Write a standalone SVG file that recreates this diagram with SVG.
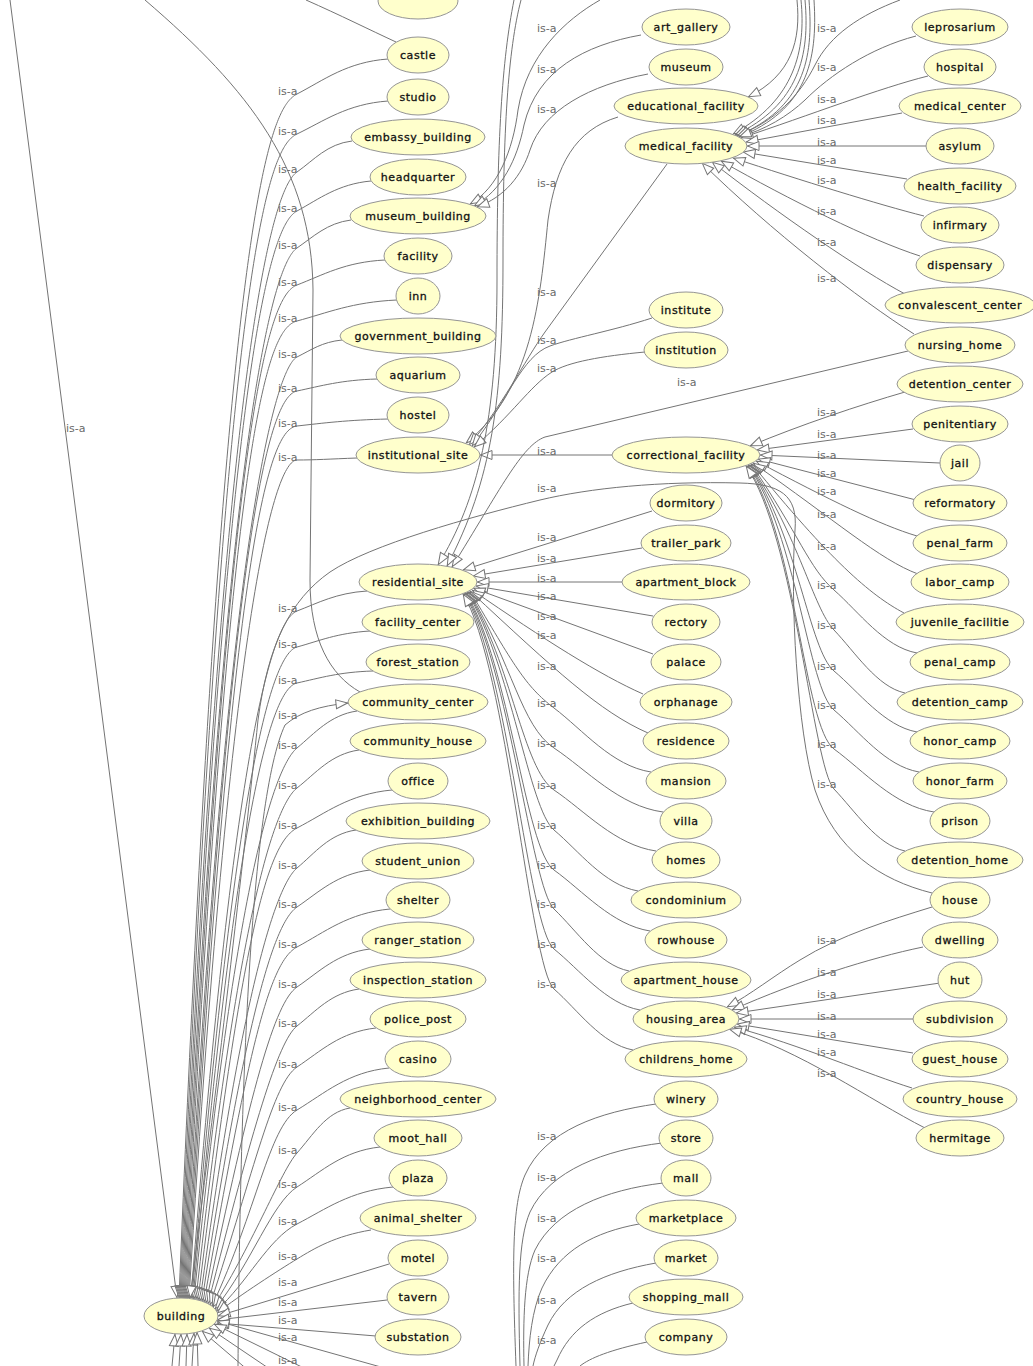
<svg xmlns="http://www.w3.org/2000/svg" width="1033" height="1366" viewBox="0 0 1033 1366">
<defs>
<style>
.n ellipse{fill:#ffffcc;stroke:#959595;stroke-width:1}
.n text{font-family:"DejaVu Sans","Liberation Sans",sans-serif;font-size:11px;letter-spacing:0.55px;fill:#111;stroke:#111;stroke-width:0.3px;text-anchor:middle}
#edges path{fill:none;stroke:#747474;stroke-width:1;marker-end:url(#arr)}
#edges path.o{marker-end:none}
#labels text{font-family:"DejaVu Sans","Liberation Sans",sans-serif;font-size:11px;fill:#6a6a6a}
</style>
<marker id="arr" viewBox="-13 -6 14 12" refX="0" refY="0" markerWidth="14" markerHeight="12" markerUnits="userSpaceOnUse" orient="auto">
<path d="M-0.5,0 L-12,-4.5 L-12,4.5 Z" fill="#fff" stroke="#747474" stroke-width="1"/>
</marker>
</defs>
<rect width="1033" height="1366" fill="#fff"/>
<g id="edges">
<path d="M10,0 L177,1298"/>
<path class="o" d="M145,0 C250,90 312,170 313,290 L310,580 C310,640 330,675 360,692"/>
<path class="o" d="M306,0 C340,15 370,30 396,42"/>
<path d="M388,59 C347,62 324,80 297,94 S224,194 179,1298"/>
<path d="M388,101 C347,104 324,121 297,134 S225,234 180,1298"/>
<path d="M352,141 C327,144 314,160 297,172 S226,272 181,1298"/>
<path d="M371,181 C338,184 319,199 297,211 S227,311 182,1298"/>
<path d="M351,220 C327,223 313,237 297,248 S228,348 183,1298"/>
<path d="M385,260 C345,262 323,275 297,285 S229,385 184,1298"/>
<path d="M397,300 C352,302 327,313 297,321 S230,421 185,1298"/>
<path d="M342,340 C322,342 311,350 297,357 S231,457 186,1298"/>
<path d="M377,379 C341,380 321,386 297,391 S232,491 187,1298"/>
<path d="M388,419 C347,420 324,423 297,426 S233,526 188,1298"/>
<path d="M357,458 C330,459 315,460 297,460 S234,560 189,1298"/>
<path d="M367,591 C336,593 318,603 297,611 S236,711 191,1298"/>
<path d="M370,631 C337,633 319,641 297,647 S237,747 192,1298"/>
<path d="M373,671 C339,672 320,678 297,683 S238,783 193,1299"/>
<path d="M357,711 C330,715 315,733 297,748 S239,848 194,1299"/>
<path d="M359,750 C331,754 316,773 297,788 S241,888 196,1299"/>
<path d="M392,790 C349,794 326,813 297,828 S243,928 198,1300"/>
<path d="M356,830 C329,834 315,853 297,868 S245,968 200,1301"/>
<path d="M370,870 C337,874 319,892 297,907 S247,1007 202,1301"/>
<path d="M390,909 C348,913 325,932 297,947 S249,1047 204,1302"/>
<path d="M370,949 C337,953 319,972 297,987 S251,1087 206,1303"/>
<path d="M359,989 C331,993 316,1011 297,1026 S253,1126 208,1304"/>
<path d="M376,1028 C340,1032 321,1051 297,1067 S255,1167 210,1305"/>
<path d="M389,1068 C348,1072 325,1093 297,1110 S257,1210 212,1306"/>
<path d="M350,1108 C326,1112 313,1135 297,1153 S255,1240 213,1307"/>
<path d="M380,1147 C343,1151 322,1171 297,1187 S252,1262 215,1309"/>
<path d="M393,1187 C350,1191 326,1209 297,1224 S248,1282 216,1311"/>
<path d="M371,1230 C335,1236 315,1248 297,1259 S240,1295 217,1313"/>
<path d="M389,1264 L218,1316"/>
<path d="M387,1300 L217,1320"/>
<path d="M376,1336 L217,1323"/>
<path d="M420,1378 L217,1321"/>
<path d="M410,1420 L214,1324"/>
<path d="M360,1430 L209,1328"/>
<path d="M330,1440 L202,1331"/>
<path d="M172,1366 L175,1334"/>
<path d="M179,1366 L181,1334"/>
<path d="M186,1366 L187,1334"/>
<path d="M192,1366 L194,1333"/>
<path d="M198,1366 L197,1332"/>
<path d="M238,1366 C240,1100 250,800 285,725 C300,712 320,706 348,703"/>
<path d="M932,893 C880,880 835,850 815,790 C797,730 790,600 795,530 C798,495 780,484 740,483 C660,481 590,488 540,500 C470,517 370,545 330,572 C290,600 268,645 258,720 C245,850 215,1100 190,1298"/>
<path d="M600,0 C565,20 527,55 518,110 C513,150 498,188 470,204"/>
<path d="M641,35 C585,45 537,70 524,125 C517,160 502,190 474,206"/>
<path d="M648,74 C590,85 543,110 530,150 C522,175 505,197 477,207"/>
<path d="M618,117 C575,130 556,165 548,220 C540,300 532,390 466,443"/>
<path d="M667,164 L545,332 C525,360 500,410 469,445"/>
<path d="M652,318 C612,331 572,338 550,346 C522,356 508,400 472,446"/>
<path d="M645,352 C602,356 568,362 552,372 C530,386 512,415 474,447"/>
<path d="M612,455 L480,455"/>
<path d="M908,351 L545,437 C522,445 500,490 452,567"/>
<path d="M521,0 C508,50 503,130 503,260 C503,400 492,480 447,566"/>
<path d="M514,0 C502,60 497,140 497,280 C497,420 478,500 438,565"/>
<path d="M652,511 L463,570"/>
<path d="M642,548 L473,576"/>
<path d="M622,582 L477,582"/>
<path d="M653,616 L476,586"/>
<path d="M653,654 L473,588"/>
<path d="M643,694 C600,675 545,640 472,590"/>
<path d="M648,733 C600,712 555,670 470,591"/>
<path d="M651,772 C612,766 583,730 554,708 S514,665 470,591"/>
<path d="M663,812 C619,806 587,770 554,748 S513,665 469,592"/>
<path d="M656,851 C615,845 585,811 554,790 S512,665 468,592"/>
<path d="M638,891 C604,885 579,851 554,830 S511,665 467,592"/>
<path d="M650,931 C612,925 583,891 554,870 S510,665 466,593"/>
<path d="M629,971 C599,965 577,931 554,909 S509,665 465,593"/>
<path d="M640,1010 C606,1004 580,970 554,949 S508,665 464,593"/>
<path d="M633,1050 C601,1044 578,1010 554,989 S507,665 463,594"/>
<path class="o" d="M656,1104 C600,1112 545,1130 525,1175 C512,1205 512,1260 516,1366"/>
<path class="o" d="M662,1143 C605,1150 550,1170 530,1212 C518,1240 518,1290 520,1366"/>
<path class="o" d="M663,1183 C605,1190 555,1210 535,1250 C524,1275 523,1320 524,1366"/>
<path class="o" d="M639,1224 C595,1232 560,1250 542,1288 C532,1310 529,1340 528,1366"/>
<path class="o" d="M656,1263 C605,1272 565,1290 548,1325 C540,1342 535,1356 533,1366"/>
<path class="o" d="M633,1303 C595,1312 570,1330 557,1360 L554,1366"/>
<path class="o" d="M647,1342 C610,1350 590,1358 580,1366"/>
<path d="M905,392 C860,405 800,425 750,446"/>
<path d="M913,429 L757,450"/>
<path d="M940,463 L760,455"/>
<path d="M916,500 L758,459"/>
<path d="M917,536 C880,525 830,500 756,461"/>
<path d="M918,574 C880,560 835,520 753,463"/>
<path d="M904,613 C870,595 830,560 752,464"/>
<path d="M917,653 C884,647 859,612 834,590 S800,536 751,464"/>
<path d="M905,693 C877,687 855,652 834,630 S799,536 750,465"/>
<path d="M917,732 C884,726 859,692 834,671 S798,536 749,465"/>
<path d="M919,772 C885,766 860,732 834,710 S797,536 748,465"/>
<path d="M934,812 C894,806 864,771 834,749 S796,536 747,466"/>
<path d="M905,851 C877,845 855,811 834,789 S795,536 746,466"/>
<path d="M932,907 C890,920 840,935 800,960 C775,975 750,995 727,1007"/>
<path d="M923,947 C870,958 800,980 732,1010"/>
<path d="M940,983 L736,1013"/>
<path d="M913,1019 L739,1019"/>
<path d="M913,1053 L737,1024"/>
<path d="M912,1088 C870,1075 800,1045 734,1027"/>
<path d="M925,1128 C870,1100 800,1050 729,1029"/>
<path d="M900,0 C860,15 830,35 815,65 C800,95 775,122 736,136"/>
<path d="M916,36 C870,48 830,75 805,100 C788,116 765,130 739,137"/>
<path d="M928,76 C880,88 810,115 741,138"/>
<path d="M902,113 L746,142"/>
<path d="M927,146 L747,146"/>
<path d="M907,179 L743,152"/>
<path d="M924,216 C880,205 800,180 733,158"/>
<path d="M920,256 C870,240 790,200 721,161"/>
<path d="M905,294 C860,270 780,215 712,162"/>
<path d="M914,334 C860,300 770,230 702,163"/>
<path d="M797,0 C801,40 792,75 748,97"/>
<path d="M801,0 C806,50 795,100 733,134"/>
<path d="M805,0 C810,55 799,105 735,135"/>
<path d="M809,0 C814,60 803,108 737,136"/>
<path d="M814,0 C818,62 806,110 739,137"/>
</g>
<g id="labels">
<text x="66" y="432">is-a</text>
<text x="278" y="95">is-a</text><text x="278" y="135">is-a</text><text x="278" y="173">is-a</text><text x="278" y="212">is-a</text><text x="278" y="249">is-a</text><text x="278" y="286">is-a</text><text x="278" y="322">is-a</text><text x="278" y="358">is-a</text><text x="278" y="392">is-a</text><text x="278" y="427">is-a</text><text x="278" y="461">is-a</text>
<text x="278" y="612">is-a</text><text x="278" y="648">is-a</text><text x="278" y="684">is-a</text><text x="278" y="719">is-a</text><text x="278" y="749">is-a</text><text x="278" y="789">is-a</text><text x="278" y="829">is-a</text><text x="278" y="869">is-a</text><text x="278" y="908">is-a</text><text x="278" y="948">is-a</text><text x="278" y="988">is-a</text><text x="278" y="1027">is-a</text><text x="278" y="1068">is-a</text><text x="278" y="1111">is-a</text><text x="278" y="1154">is-a</text><text x="278" y="1188">is-a</text><text x="278" y="1225">is-a</text><text x="278" y="1260">is-a</text><text x="278" y="1286">is-a</text><text x="278" y="1306">is-a</text><text x="278" y="1324">is-a</text><text x="278" y="1341">is-a</text><text x="278" y="1364">is-a</text>
<text x="537" y="32">is-a</text><text x="537" y="73">is-a</text><text x="537" y="113">is-a</text><text x="537" y="187">is-a</text><text x="537" y="296">is-a</text><text x="537" y="344">is-a</text><text x="537" y="372">is-a</text><text x="537" y="455">is-a</text><text x="537" y="492">is-a</text>
<text x="537" y="541">is-a</text><text x="537" y="562">is-a</text><text x="537" y="582">is-a</text><text x="537" y="600">is-a</text><text x="537" y="620">is-a</text><text x="537" y="639">is-a</text><text x="537" y="670">is-a</text><text x="537" y="707">is-a</text><text x="537" y="747">is-a</text><text x="537" y="789">is-a</text><text x="537" y="829">is-a</text><text x="537" y="869">is-a</text><text x="537" y="908">is-a</text><text x="537" y="948">is-a</text><text x="537" y="988">is-a</text>
<text x="537" y="1140">is-a</text><text x="537" y="1181">is-a</text><text x="537" y="1222">is-a</text><text x="537" y="1262">is-a</text><text x="537" y="1304">is-a</text><text x="537" y="1344">is-a</text>
<text x="677" y="386">is-a</text>
<text x="817" y="32">is-a</text><text x="817" y="71">is-a</text><text x="817" y="103">is-a</text><text x="817" y="124">is-a</text><text x="817" y="146">is-a</text><text x="817" y="164">is-a</text><text x="817" y="184">is-a</text><text x="817" y="215">is-a</text><text x="817" y="246">is-a</text><text x="817" y="282">is-a</text>
<text x="817" y="416">is-a</text><text x="817" y="438">is-a</text><text x="817" y="459">is-a</text><text x="817" y="477">is-a</text><text x="817" y="495">is-a</text><text x="817" y="518">is-a</text><text x="817" y="550">is-a</text><text x="817" y="589">is-a</text><text x="817" y="629">is-a</text><text x="817" y="670">is-a</text><text x="817" y="709">is-a</text><text x="817" y="748">is-a</text><text x="817" y="788">is-a</text>
<text x="817" y="944">is-a</text><text x="817" y="976">is-a</text><text x="817" y="998">is-a</text><text x="817" y="1020">is-a</text><text x="817" y="1038">is-a</text><text x="817" y="1056">is-a</text><text x="817" y="1077">is-a</text>
</g>
<g id="n-top" class="n"><ellipse cx="418" cy="1" rx="40" ry="18"/></g>
<g id="castle" class="n"><ellipse cx="418" cy="55" rx="31" ry="18"/><text x="418" y="59">castle</text></g>
<g id="studio" class="n"><ellipse cx="418" cy="97" rx="31" ry="18"/><text x="418" y="101">studio</text></g>
<g id="embassy_building" class="n"><ellipse cx="418" cy="137" rx="67" ry="18"/><text x="418" y="141">embassy_building</text></g>
<g id="headquarter" class="n"><ellipse cx="418" cy="177" rx="48" ry="18"/><text x="418" y="181">headquarter</text></g>
<g id="museum_building" class="n"><ellipse cx="418" cy="216" rx="68" ry="18"/><text x="418" y="220">museum_building</text></g>
<g id="facility" class="n"><ellipse cx="418" cy="256" rx="34" ry="18"/><text x="418" y="260">facility</text></g>
<g id="inn" class="n"><ellipse cx="418" cy="296" rx="22" ry="18"/><text x="418" y="300">inn</text></g>
<g id="government_building" class="n"><ellipse cx="418" cy="336" rx="78" ry="18"/><text x="418" y="340">government_building</text></g>
<g id="aquarium" class="n"><ellipse cx="418" cy="375" rx="42" ry="18"/><text x="418" y="379">aquarium</text></g>
<g id="hostel" class="n"><ellipse cx="418" cy="415" rx="31" ry="18"/><text x="418" y="419">hostel</text></g>
<g id="institutional_site" class="n"><ellipse cx="418" cy="455" rx="62" ry="18"/><text x="418" y="459">institutional_site</text></g>
<g id="residential_site" class="n"><ellipse cx="418" cy="582" rx="59" ry="18"/><text x="418" y="586">residential_site</text></g>
<g id="facility_center" class="n"><ellipse cx="418" cy="622" rx="56" ry="18"/><text x="418" y="626">facility_center</text></g>
<g id="forest_station" class="n"><ellipse cx="418" cy="662" rx="52" ry="18"/><text x="418" y="666">forest_station</text></g>
<g id="community_center" class="n"><ellipse cx="418" cy="702" rx="70" ry="18"/><text x="418" y="706">community_center</text></g>
<g id="community_house" class="n"><ellipse cx="418" cy="741" rx="68" ry="18"/><text x="418" y="745">community_house</text></g>
<g id="office" class="n"><ellipse cx="418" cy="781" rx="30" ry="18"/><text x="418" y="785">office</text></g>
<g id="exhibition_building" class="n"><ellipse cx="418" cy="821" rx="72" ry="18"/><text x="418" y="825">exhibition_building</text></g>
<g id="student_union" class="n"><ellipse cx="418" cy="861" rx="56" ry="18"/><text x="418" y="865">student_union</text></g>
<g id="shelter" class="n"><ellipse cx="418" cy="900" rx="32" ry="18"/><text x="418" y="904">shelter</text></g>
<g id="ranger_station" class="n"><ellipse cx="418" cy="940" rx="56" ry="18"/><text x="418" y="944">ranger_station</text></g>
<g id="inspection_station" class="n"><ellipse cx="418" cy="980" rx="68" ry="18"/><text x="418" y="984">inspection_station</text></g>
<g id="police_post" class="n"><ellipse cx="418" cy="1019" rx="48" ry="18"/><text x="418" y="1023">police_post</text></g>
<g id="casino" class="n"><ellipse cx="418" cy="1059" rx="33" ry="18"/><text x="418" y="1063">casino</text></g>
<g id="neighborhood_center" class="n"><ellipse cx="418" cy="1099" rx="78" ry="18"/><text x="418" y="1103">neighborhood_center</text></g>
<g id="moot_hall" class="n"><ellipse cx="418" cy="1138" rx="44" ry="18"/><text x="418" y="1142">moot_hall</text></g>
<g id="plaza" class="n"><ellipse cx="418" cy="1178" rx="29" ry="18"/><text x="418" y="1182">plaza</text></g>
<g id="animal_shelter" class="n"><ellipse cx="418" cy="1218" rx="58" ry="18"/><text x="418" y="1222">animal_shelter</text></g>
<g id="motel" class="n"><ellipse cx="418" cy="1258" rx="30" ry="18"/><text x="418" y="1262">motel</text></g>
<g id="tavern" class="n"><ellipse cx="418" cy="1297" rx="31" ry="18"/><text x="418" y="1301">tavern</text></g>
<g id="substation" class="n"><ellipse cx="418" cy="1337" rx="43" ry="18"/><text x="418" y="1341">substation</text></g>
<g id="building" class="n"><ellipse cx="181" cy="1316" rx="37" ry="18"/><text x="181" y="1320">building</text></g>
<g id="art_gallery" class="n"><ellipse cx="686" cy="27" rx="44" ry="18"/><text x="686" y="31">art_gallery</text></g>
<g id="museum" class="n"><ellipse cx="686" cy="67" rx="37" ry="18"/><text x="686" y="71">museum</text></g>
<g id="educational_facility" class="n"><ellipse cx="686" cy="106" rx="72" ry="18"/><text x="686" y="110">educational_facility</text></g>
<g id="medical_facility" class="n"><ellipse cx="686" cy="146" rx="61" ry="18"/><text x="686" y="150">medical_facility</text></g>
<g id="institute" class="n"><ellipse cx="686" cy="310" rx="37" ry="18"/><text x="686" y="314">institute</text></g>
<g id="institution" class="n"><ellipse cx="686" cy="350" rx="42" ry="18"/><text x="686" y="354">institution</text></g>
<g id="correctional_facility" class="n"><ellipse cx="686" cy="455" rx="74" ry="18"/><text x="686" y="459">correctional_facility</text></g>
<g id="dormitory" class="n"><ellipse cx="686" cy="503" rx="36" ry="18"/><text x="686" y="507">dormitory</text></g>
<g id="trailer_park" class="n"><ellipse cx="686" cy="543" rx="45" ry="18"/><text x="686" y="547">trailer_park</text></g>
<g id="apartment_block" class="n"><ellipse cx="686" cy="582" rx="64" ry="18"/><text x="686" y="586">apartment_block</text></g>
<g id="rectory" class="n"><ellipse cx="686" cy="622" rx="34" ry="18"/><text x="686" y="626">rectory</text></g>
<g id="palace" class="n"><ellipse cx="686" cy="662" rx="35" ry="18"/><text x="686" y="666">palace</text></g>
<g id="orphanage" class="n"><ellipse cx="686" cy="702" rx="46" ry="18"/><text x="686" y="706">orphanage</text></g>
<g id="residence" class="n"><ellipse cx="686" cy="741" rx="43" ry="18"/><text x="686" y="745">residence</text></g>
<g id="mansion" class="n"><ellipse cx="686" cy="781" rx="40" ry="18"/><text x="686" y="785">mansion</text></g>
<g id="villa" class="n"><ellipse cx="686" cy="821" rx="26" ry="18"/><text x="686" y="825">villa</text></g>
<g id="homes" class="n"><ellipse cx="686" cy="860" rx="34" ry="18"/><text x="686" y="864">homes</text></g>
<g id="condominium" class="n"><ellipse cx="686" cy="900" rx="55" ry="18"/><text x="686" y="904">condominium</text></g>
<g id="rowhouse" class="n"><ellipse cx="686" cy="940" rx="41" ry="18"/><text x="686" y="944">rowhouse</text></g>
<g id="apartment_house" class="n"><ellipse cx="686" cy="980" rx="65" ry="18"/><text x="686" y="984">apartment_house</text></g>
<g id="housing_area" class="n"><ellipse cx="686" cy="1019" rx="53" ry="18"/><text x="686" y="1023">housing_area</text></g>
<g id="childrens_home" class="n"><ellipse cx="686" cy="1059" rx="61" ry="18"/><text x="686" y="1063">childrens_home</text></g>
<g id="winery" class="n"><ellipse cx="686" cy="1099" rx="32" ry="18"/><text x="686" y="1103">winery</text></g>
<g id="store" class="n"><ellipse cx="686" cy="1138" rx="27" ry="18"/><text x="686" y="1142">store</text></g>
<g id="mall" class="n"><ellipse cx="686" cy="1178" rx="25" ry="18"/><text x="686" y="1182">mall</text></g>
<g id="marketplace" class="n"><ellipse cx="686" cy="1218" rx="50" ry="18"/><text x="686" y="1222">marketplace</text></g>
<g id="market" class="n"><ellipse cx="686" cy="1258" rx="32" ry="18"/><text x="686" y="1262">market</text></g>
<g id="shopping_mall" class="n"><ellipse cx="686" cy="1297" rx="57" ry="18"/><text x="686" y="1301">shopping_mall</text></g>
<g id="company" class="n"><ellipse cx="686" cy="1337" rx="41" ry="18"/><text x="686" y="1341">company</text></g>
<g id="leprosarium" class="n"><ellipse cx="960" cy="27" rx="48" ry="18"/><text x="960" y="31">leprosarium</text></g>
<g id="hospital" class="n"><ellipse cx="960" cy="67" rx="36" ry="18"/><text x="960" y="71">hospital</text></g>
<g id="medical_center" class="n"><ellipse cx="960" cy="106" rx="61" ry="18"/><text x="960" y="110">medical_center</text></g>
<g id="asylum" class="n"><ellipse cx="960" cy="146" rx="34" ry="18"/><text x="960" y="150">asylum</text></g>
<g id="health_facility" class="n"><ellipse cx="960" cy="186" rx="56" ry="18"/><text x="960" y="190">health_facility</text></g>
<g id="infirmary" class="n"><ellipse cx="960" cy="225" rx="39" ry="18"/><text x="960" y="229">infirmary</text></g>
<g id="dispensary" class="n"><ellipse cx="960" cy="265" rx="44" ry="18"/><text x="960" y="269">dispensary</text></g>
<g id="convalescent_center" class="n"><ellipse cx="960" cy="305" rx="75" ry="18"/><text x="960" y="309">convalescent_center</text></g>
<g id="nursing_home" class="n"><ellipse cx="960" cy="345" rx="55" ry="18"/><text x="960" y="349">nursing_home</text></g>
<g id="detention_center" class="n"><ellipse cx="960" cy="384" rx="63" ry="18"/><text x="960" y="388">detention_center</text></g>
<g id="penitentiary" class="n"><ellipse cx="960" cy="424" rx="48" ry="18"/><text x="960" y="428">penitentiary</text></g>
<g id="jail" class="n"><ellipse cx="960" cy="463" rx="20" ry="18"/><text x="960" y="467">jail</text></g>
<g id="reformatory" class="n"><ellipse cx="960" cy="503" rx="47" ry="18"/><text x="960" y="507">reformatory</text></g>
<g id="penal_farm" class="n"><ellipse cx="960" cy="543" rx="47" ry="18"/><text x="960" y="547">penal_farm</text></g>
<g id="labor_camp" class="n"><ellipse cx="960" cy="582" rx="49" ry="18"/><text x="960" y="586">labor_camp</text></g>
<g id="juvenile_facilitie" class="n"><ellipse cx="960" cy="622" rx="64" ry="18"/><text x="960" y="626">juvenile_facilitie</text></g>
<g id="penal_camp" class="n"><ellipse cx="960" cy="662" rx="50" ry="18"/><text x="960" y="666">penal_camp</text></g>
<g id="detention_camp" class="n"><ellipse cx="960" cy="702" rx="63" ry="18"/><text x="960" y="706">detention_camp</text></g>
<g id="honor_camp" class="n"><ellipse cx="960" cy="741" rx="50" ry="18"/><text x="960" y="745">honor_camp</text></g>
<g id="honor_farm" class="n"><ellipse cx="960" cy="781" rx="47" ry="18"/><text x="960" y="785">honor_farm</text></g>
<g id="prison" class="n"><ellipse cx="960" cy="821" rx="30" ry="18"/><text x="960" y="825">prison</text></g>
<g id="detention_home" class="n"><ellipse cx="960" cy="860" rx="63" ry="18"/><text x="960" y="864">detention_home</text></g>
<g id="house" class="n"><ellipse cx="960" cy="900" rx="30" ry="18"/><text x="960" y="904">house</text></g>
<g id="dwelling" class="n"><ellipse cx="960" cy="940" rx="38" ry="18"/><text x="960" y="944">dwelling</text></g>
<g id="hut" class="n"><ellipse cx="960" cy="980" rx="22" ry="18"/><text x="960" y="984">hut</text></g>
<g id="subdivision" class="n"><ellipse cx="960" cy="1019" rx="47" ry="18"/><text x="960" y="1023">subdivision</text></g>
<g id="guest_house" class="n"><ellipse cx="960" cy="1059" rx="48" ry="18"/><text x="960" y="1063">guest_house</text></g>
<g id="country_house" class="n"><ellipse cx="960" cy="1099" rx="57" ry="18"/><text x="960" y="1103">country_house</text></g>
<g id="hermitage" class="n"><ellipse cx="960" cy="1138" rx="44" ry="18"/><text x="960" y="1142">hermitage</text></g>
</svg>
